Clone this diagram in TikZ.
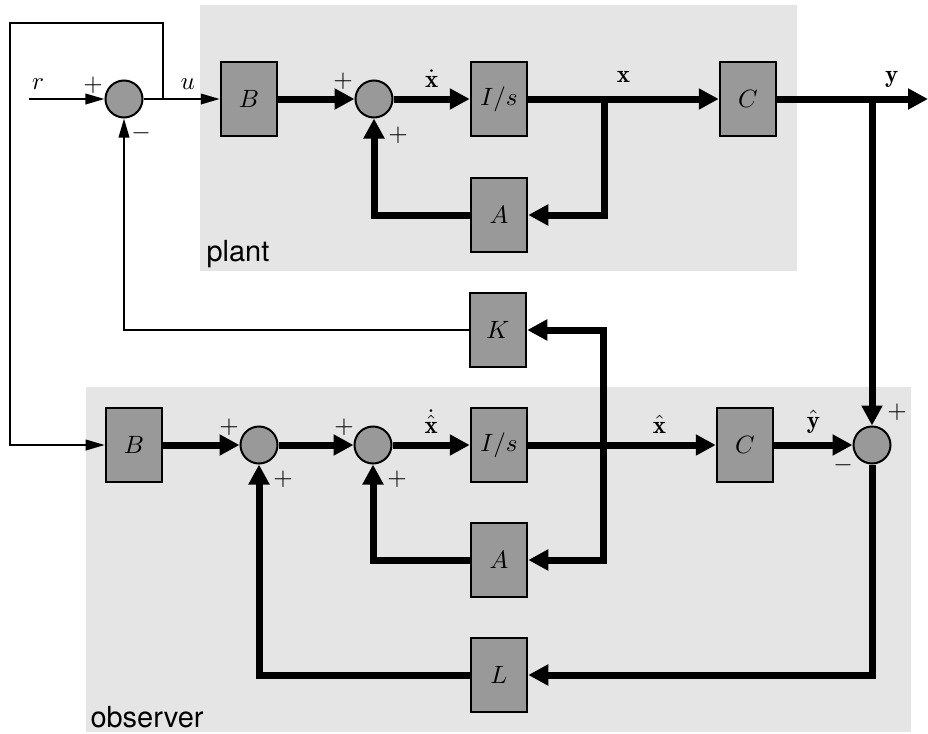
\documentclass[tikz,border=0pt]{standalone}
\usepackage{fontspec}
\setsansfont{TeX Gyre Heros}
\usepackage{amsmath}
\usetikzlibrary{arrows.meta, positioning, calc}
\definecolor{blockgray}{gray}{0.6}
\definecolor{regiongray}{gray}{0.9}
\tikzstyle{block} = [rectangle, draw=black, line width=0.8pt, fill=blockgray, minimum width=22.6pt, minimum height=29.8pt, inner sep=0pt]
\tikzstyle{sum} = [circle, draw=black, line width=0.8pt, fill=blockgray, minimum size=14.8pt, inner sep=0pt]
\tikzstyle{signal} = [line width=0.8pt, -{Triangle[length=7.6pt, width=4.2pt]}]
\tikzstyle{vsignal} = [line width=2.8pt, -{Triangle[length=8pt, width=8pt]}]
\tikzstyle{sign} = [inner sep=0pt]
\tikzstyle{region} = [font=\sffamily\fontsize{11.6}{14}\selectfont, inner sep=0pt, anchor=base west]

\begin{document}
\begin{tikzpicture}[x=0.4pt, y=-0.4pt]
    \useasboundingbox (0,0) rectangle (928,734);
    % shaded regions
    \fill[regiongray] (200,5) rectangle (797,271);
    \fill[regiongray] (86,387) rectangle (911,732);
    \node[region] (plantlbl) at (206,261) {plant};
    \node[region] (obslbl) at (90,727) {observer};

    % plant
    \node[sum] (sumU) at (124,99) {};
    \node[block] (Bp) at (249,99) {$B$};
    \node[sum] (sumP) at (374,99) {};
    \node[block] (Ip) at (499,99) {$I/s$};
    \node[block] (Ap) at (499,215) {$A$};
    \node[block] (Cp) at (748,99) {$C$};
    \node[block] (K) at (498,330) {$K$};

    % observer
    \node[block] (Bo) at (134,445) {$B$};
    \node[sum] (sumO1) at (259,445) {};
    \node[sum] (sumO2) at (373,445) {};
    \node[block] (Io) at (499,445) {$I/s$};
    \node[block] (Co) at (745,445) {$C$};
    \node[sum] (sumO3) at (872,445) {};
    \node[block] (Ao) at (499,560) {$A$};
    \node[block] (L) at (499,675) {$L$};

    % branch points
    \coordinate (rin) at (29,99);
    \coordinate (uB) at (163,99);
    \coordinate (tl) at (10,23);
    \coordinate (xB) at (604,99);
    \coordinate (yB) at (872,99);
    \coordinate (yout) at (928,99);
    \coordinate (xoB) at (603,445);

    % signs
    \node[sign] (sU1) at ($(sumU)+(-31,-14)$) {$+$};
    \node[sign] (sU2) at ($(sumU)+(17,34)$) {$-$};
    \node[sign] (sP1) at ($(sumP)+(-31,-18)$) {$+$};
    \node[sign] (sP2) at ($(sumP)+(24,36)$) {$+$};
    \node[sign] (sO11) at ($(sumO1)+(-30,-18)$) {$+$};
    \node[sign] (sO12) at ($(sumO1)+(24,34)$) {$+$};
    \node[sign] (sO21) at ($(sumO2)+(-29,-18)$) {$+$};
    \node[sign] (sO22) at ($(sumO2)+(24,34)$) {$+$};
    \node[sign] (sO31) at ($(sumO3)+(25,-33)$) {$+$};
    \node[sign] (sO32) at ($(sumO3)+(-29,20)$) {$-$};

    % thin signals
    \draw[signal] (rin) -- node[above, pos=0.12] (rlbl) {$r$} (sumU.west);
    \draw[signal] (sumU.east) -- node[above, pos=0.58] (ulbl) {$u$} (Bp.west);
    \draw[signal] (uB) |- (tl) |- (Bo.west);
    \draw[signal] (K.west) -| (sumU.south);

    % plant signals
    \draw[vsignal] (Bp) -- (sumP);
    \draw[vsignal] (sumP) -- node[above] (xdlbl) {$\dot{\mathbf{x}}$} (Ip);
    \draw[vsignal] (Ip) -- node[above=2pt] (xlbl) {$\mathbf{x}$} (Cp);
    \draw[vsignal] (xB) |- (Ap.east);
    \draw[vsignal] (Ap.west) -| (sumP.south);
    \draw[vsignal] (Cp) -- node[above, pos=0.76] (ylbl) {$\mathbf{y}$} (yout);
    \draw[vsignal] (yB) -- (sumO3.north);

    % observer signals
    \draw[vsignal] (Bo) -- (sumO1);
    \draw[vsignal] (sumO1) -- (sumO2);
    \draw[vsignal] (sumO2) -- node[above] (xhdlbl) {$\dot{\hat{\mathbf{x}}}$} (Io);
    \draw[vsignal] (Io) -- node[above, pos=0.70] (xhlbl) {$\hat{\mathbf{x}}$} (Co);
    \draw[vsignal] (Co) -- node[above] (yhlbl) {$\hat{\mathbf{y}}$} (sumO3);
    \draw[vsignal] (xoB) |- (K.east);
    \draw[vsignal] (xoB) |- (Ao.east);
    \draw[vsignal] (Ao.west) -| (sumO2.south);
    \draw[vsignal] (sumO3.south) |- (L.east);
    \draw[vsignal] (L.west) -| (sumO1.south);
\end{tikzpicture}
\end{document}
